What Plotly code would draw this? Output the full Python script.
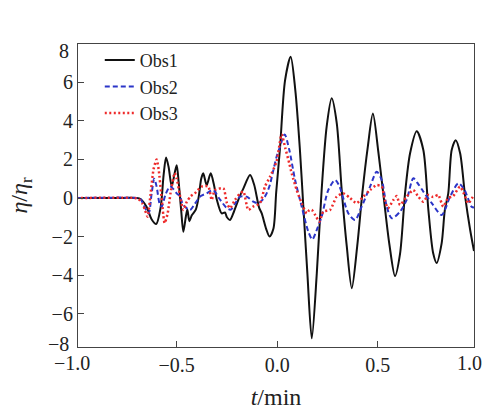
import plotly.graph_objects as go

# ---- data ----
obs1_t = [-1.0, -0.80, -0.70, -0.68, -0.65, -0.625, -0.602, -0.58, -0.565, -0.553, -0.54, -0.525,
          -0.51, -0.50, -0.49, -0.478, -0.467, -0.455, -0.447, -0.437, -0.425, -0.405, -0.39, -0.378,
          -0.368, -0.351, -0.331, -0.315, -0.30, -0.276, -0.26, -0.25, -0.235, -0.215, -0.19, -0.168,
          -0.135, -0.115, -0.09, -0.077, -0.055, -0.038, -0.019, -0.005, 0.014, 0.039, 0.067, 0.09,
          0.113, 0.13, 0.15, 0.172, 0.197, 0.221, 0.246, 0.271, 0.296, 0.321, 0.346, 0.371, 0.398,
          0.424, 0.45, 0.476, 0.503, 0.528, 0.558, 0.586, 0.611, 0.636, 0.661, 0.694, 0.727, 0.752,
          0.776, 0.793, 0.818, 0.834, 0.851, 0.868, 0.888, 0.91, 0.935, 0.96, 0.979]
obs1_v = [0.0, 0.0, 0.0, -0.05, -0.45, -1.1, -1.35, -0.5, 1.2, 2.1, 1.6, 0.6,
          1.3, 1.7, 0.8, -0.6, -1.75, -1.0, -0.6, -1.2, -0.9, -0.6, 0.1, 1.0,
          1.28, 0.67, 1.28, 0.7, -0.1, -0.8, -0.75, -1.0, -1.14, -0.7, 0.0, 0.5,
          1.19, 0.7, -0.5, -0.8, -1.6, -2.0, -1.6, 0.3, 2.6, 6.1, 7.33, 5.6,
          2.5, -0.45, -3.9, -7.28, -3.9, 0.4, 3.7, 5.17, 3.9, 0.4, -2.5, -4.68, -2.5,
          0.3, 2.6, 4.38, 2.4, 0.2, -2.4, -4.05, -2.9, 0.24, 2.32, 3.46, 2.49, -0.62,
          -2.87, -3.37, -2.35, -0.62, 0.24, 2.49, 3.0, 2.32, 0.07, -1.66, -2.75]

obs2_t = [-1.0, -0.70, -0.68, -0.665, -0.64, -0.625, -0.612, -0.60, -0.585, -0.575, -0.555, -0.533,
          -0.515, -0.50, -0.485, -0.467, -0.434, -0.41, -0.38, -0.351, -0.318, -0.29, -0.25, -0.23,
          -0.21, -0.185, -0.152, -0.119, -0.094, -0.069, -0.05, -0.036, -0.019, -0.003, 0.014, 0.037,
          0.06, 0.089, 0.122, 0.155, 0.175, 0.195, 0.221, 0.254, 0.288, 0.31, 0.354, 0.387, 0.42,
          0.462, 0.495, 0.52, 0.545, 0.57, 0.611, 0.644, 0.677, 0.70, 0.727, 0.769, 0.818, 0.86,
          0.901, 0.93, 0.967, 0.979]
obs2_v = [0.0, 0.0, -0.05, -0.36, -0.8, 0.2, 1.0, 0.6, -0.3, -0.45, 0.2, 0.6,
          0.45, 0.24, 0.1, -0.36, -0.62, -0.3, 0.1, 0.24, 0.41, 0.0, -0.53, -0.6,
          -0.3, 0.07, 0.07, -0.19, -0.27, -0.05, 0.3, 0.7, 1.45, 2.14, 2.66, 3.3,
          2.5, 0.93, -0.45, -1.75, -2.15, -1.7, -0.97, 0.41, 0.93, 0.6, -0.8, -1.14, -0.45,
          0.59, 1.36, 0.93, -0.45, -1.05, -0.71, -0.1, 1.02, 0.75, 0.33, -0.27, -0.88, 0.07,
          0.76, 0.45, -0.45, -0.5]

obs3_t = [-1.0, -0.71, -0.69, -0.67, -0.658, -0.645, -0.63, -0.615, -0.60, -0.59, -0.575, -0.56,
          -0.545, -0.53, -0.51, -0.50, -0.485, -0.467, -0.45, -0.43, -0.41, -0.376, -0.343, -0.326,
          -0.31, -0.268, -0.25, -0.235, -0.21, -0.185, -0.168, -0.144, -0.12, -0.086, -0.061, -0.036,
          -0.003, 0.022, 0.04, 0.06, 0.072, 0.097, 0.122, 0.147, 0.16, 0.172, 0.19, 0.21, 0.229,
          0.263, 0.296, 0.329, 0.362, 0.395, 0.428, 0.462, 0.495, 0.52, 0.535, 0.551, 0.578, 0.595,
          0.611, 0.644, 0.677, 0.702, 0.727, 0.752, 0.776, 0.801, 0.826, 0.85, 0.875, 0.909, 0.93,
          0.95, 0.979]
obs3_v = [0.0, 0.0, -0.05, -0.3, -0.62, -0.97, 0.2, 1.5, 2.0, 1.5, 0.0, -1.3,
          -0.8, 0.3, 1.3, 1.0, 0.2, -0.62, -0.2, 0.1, 0.24, 0.59, 0.6, -0.1,
          0.41, 0.5, -0.27, -0.53, -0.1, 0.24, 0.33, -0.62, -0.45, -0.27, 0.59, 1.1,
          1.9, 3.3, 2.6, 1.8, 1.28, 0.41, -0.28, -0.8, -0.62, -0.62, -0.9, -1.23, -0.71,
          -0.62, 0.07, 0.24, 0.0, -0.27, 0.07, 0.41, 0.67, 0.59, -0.1, -0.53, -0.1, 0.1,
          -0.36, 0.07, 0.41, 0.07, -0.19, 0.16, 0.05, 0.16, -0.45, 0.0, 0.1, 0.59, 0.2,
          -0.27, 0.16]

x_range = [-0.991, 0.979]
x_tickvals = [-0.5, 0.0, 0.5]
x_ticktext = ["−0.5", "0.0", "0.5"]
x_end_labels = ["−1.0", "1.0"]
y_tickvals = [-6, -4, -2, 0, 2, 4, 6]
y_ticktext = ["−6", "−4", "−2", "0", "2", "4", "6"]
y_range = [-7.73, 7.99]
y_end_labels = ["−8", "8"]

FONT = "Liberation Serif"
TXT = "#222222"

fig = go.Figure()
fig.add_trace(go.Scatter(x=obs1_t, y=obs1_v, name="Obs1", mode="lines",
                         line=dict(color="#111111", width=2, shape="spline", smoothing=0.8)))
fig.add_trace(go.Scatter(x=obs2_t, y=obs2_v, name="Obs2", mode="lines",
                         line=dict(color="#2b35c8", width=2, dash="5px,3px", shape="spline", smoothing=0.8)))
fig.add_trace(go.Scatter(x=obs3_t, y=obs3_v, name="Obs3", mode="lines",
                         line=dict(color="#ee2a2a", width=2.5, dash="2px,2.5px", shape="spline", smoothing=0.6)))

lab_font = dict(family=FONT, size=20, color=TXT)
# end labels of the y axis (placed as the reference sets them)
fig.add_annotation(xref="paper", yref="y", x=0, y=y_range[0], text=y_end_labels[0],
                   showarrow=False, xanchor="right", yanchor="middle", xshift=-7, yshift=3,
                   font=lab_font)
fig.add_annotation(xref="paper", yref="y", x=0, y=y_range[1], text=y_end_labels[1],
                   showarrow=False, xanchor="right", yanchor="middle", xshift=-7, yshift=-7,
                   font=lab_font)
# end labels of the x axis
fig.add_annotation(xref="x", yref="paper", x=x_range[0], y=0, text=x_end_labels[0],
                   showarrow=False, xanchor="center", yanchor="middle", xshift=-6, yshift=-16,
                   font=lab_font)
fig.add_annotation(xref="x", yref="paper", x=x_range[1], y=0, text=x_end_labels[1],
                   showarrow=False, xanchor="center", yanchor="middle", xshift=-5, yshift=-16,
                   font=lab_font)

axis_common = dict(showgrid=False, zeroline=False, showline=True, linecolor="#444444",
                   linewidth=1.2, mirror=True, ticks="inside", ticklen=6, tickcolor="#444444",
                   automargin=False)

fig.update_layout(
    width=487, height=410,
    margin=dict(l=78, r=13, t=44, b=63, autoexpand=False),
    paper_bgcolor="white", plot_bgcolor="white",
    font=dict(family=FONT, size=20, color=TXT),
    showlegend=True,
    legend=dict(x=0.055, y=1.007, xanchor="left", yanchor="top",
                bgcolor="rgba(255,255,255,0)", font=dict(size=18),
                tracegroupgap=0),
    xaxis=dict(range=x_range, tickvals=x_tickvals, ticktext=x_ticktext,
               title=dict(text="<i>t</i>/min", standoff=23), **axis_common),
    yaxis=dict(range=y_range, tickvals=y_tickvals, ticktext=y_ticktext,
               title=dict(text="<i>η</i>/<i>η</i><sub>r</sub>", standoff=17), **axis_common),
)

fig.write_html("out.html", config={"displayModeBar": False},
               post_script="document.body.style.margin='0px';")
